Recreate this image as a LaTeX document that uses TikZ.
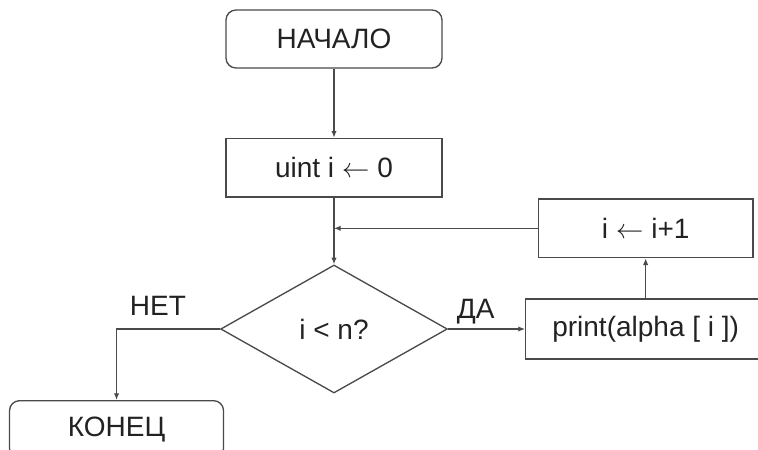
\documentclass[tikz,border=0pt]{standalone}
\usepackage{fontspec}
\setmainfont{Liberation Sans}
\usepackage{tikz}
\usetikzlibrary{arrows.meta,positioning,shapes.geometric}
\definecolor{ink}{HTML}{222222}
\definecolor{frame}{HTML}{4A4A4A}
\newcommand{\flowfont}{\fontsize{21}{25}\selectfont}

\begin{document}
\begin{tikzpicture}[
  x=0.75pt, y=-0.75pt,
  term/.style={draw=frame, line width=1pt, rounded corners=7.5pt, align=center, minimum width=162pt, minimum height=43.5pt, font=\flowfont, text=ink},
  box/.style={draw=frame, line width=1pt, align=center, minimum width=162pt, minimum height=44pt, font=\flowfont, text=ink},
  test/.style={diamond, draw=frame, line width=1pt, minimum width=170pt, minimum height=96pt, inner sep=0pt, font=\flowfont, text=ink},
  arrow/.style={-{Latex[length=5pt,width=4pt]}, line width=0.9pt, draw=frame},
  flow/.style={font=\flowfont, text=ink}
]
\useasboundingbox (0,0) rectangle (758,450);
\clip (0,0) rectangle (758,450);

\node[term] (start) at (334,39) {НАЧАЛО};
\node[box, below=51.75pt of start] (init) {uint i $\leftarrow$ 0};
\node[test, below=50pt of init] (cond) {i < n?};
\node[box, right=57.75pt of cond, minimum width=180pt, minimum height=45pt] (print) {print(alpha [ i ])};
\node[box, above=30pt of print, minimum width=161pt] (incr) {i $\leftarrow$ i+1};
\node[term, below=53.25pt of cond.west, xshift=-77.6pt, minimum width=160.5pt] (end) {КОНЕЦ};

\coordinate (merge) at (init.south |- incr.west);

\draw[arrow] (start) -- (init);
\draw[arrow] (init) -- (cond);
\draw[arrow] (cond) -- node[flow, above, pos=0.36] {ДА} (print);
\draw[arrow] (print) -- (incr);
\draw[arrow] (incr) -- (merge);
\draw[arrow] (cond.west) -| node[flow, above, pos=0.3, yshift=6pt] {НЕТ} (end.north);
\end{tikzpicture}
\end{document}
